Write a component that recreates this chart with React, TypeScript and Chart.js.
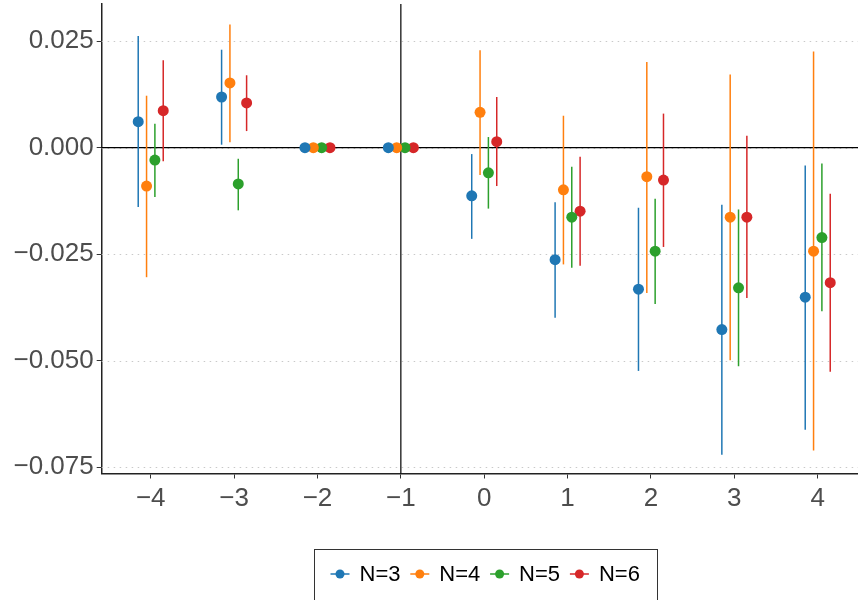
import React, { useEffect, useRef } from "react";
import { Chart, registerables } from "chart.js";
Chart.register(...registerables);

const events = [-4, -3, -2, -1, 0, 1, 2, 3, 4];
const seriesNames = ["N=3", "N=4", "N=5", "N=6"];
const colors = ["#1f77b4", "#ff7f0e", "#2ca02c", "#d62728"];
const dodge = [-0.15, -0.05, 0.05, 0.15];

const n3 = [0.0061, 0.0119, 0, 0, -0.0113, -0.0263, -0.0332, -0.0427, -0.0351];
const n3Lo = [-0.0139, 0.0007, 0, 0, -0.0214, -0.0399, -0.0524, -0.0721, -0.0662];
const n3Hi = [0.0262, 0.023, 0, 0, -0.0015, -0.0128, -0.0141, -0.0134, -0.0042];

const n4 = [-0.009, 0.0152, 0, 0, 0.0083, -0.0099, -0.0068, -0.0163, -0.0243];
const n4Lo = [-0.0304, 0.0013, 0, 0, -0.0064, -0.0274, -0.0341, -0.0499, -0.0711];
const n4Hi = [0.0122, 0.0289, 0, 0, 0.0229, 0.0075, 0.0201, 0.0172, 0.0226];

const n5 = [-0.0029, -0.0085, 0, 0, -0.0059, -0.0163, -0.0243, -0.0329, -0.0211];
const n5Lo = [-0.0116, -0.0147, 0, 0, -0.0143, -0.0282, -0.0367, -0.0513, -0.0384];
const n5Hi = [0.0056, -0.0026, 0, 0, 0.0025, -0.0045, -0.012, -0.0145, -0.0037];

const n6 = [0.0087, 0.0105, 0, 0, 0.0014, -0.0149, -0.0076, -0.0163, -0.0317];
const n6Lo = [-0.0032, 0.0039, 0, 0, -0.009, -0.0277, -0.0233, -0.0353, -0.0526];
const n6Hi = [0.0205, 0.017, 0, 0, 0.0119, -0.0021, 0.008, 0.0028, -0.0108];

const xTicks = [-4, -3, -2, -1, 0, 1, 2, 3, 4];
const yTicks = [0.025, 0, -0.025, -0.05, -0.075];

const estimates = [n3, n4, n5, n6];
const lows = [n3Lo, n4Lo, n5Lo, n6Lo];
const highs = [n3Hi, n4Hi, n5Hi, n6Hi];

const FONT = "'Liberation Sans', Arial, sans-serif";

function fmtY(v: number): string {
  const s = Math.abs(v).toFixed(3);
  return v < -1e-9 ? "\u2212" + s : s;
}
function fmtX(v: number): string {
  return v < 0 ? "\u2212" + Math.abs(v) : String(v);
}

const decorPlugin = {
  id: "decor",
  beforeDatasetsDraw(chart: any) {
    const { ctx, chartArea, scales } = chart;
    const xs = scales.x;
    const ys = scales.y;
    ctx.save();
    ctx.strokeStyle = "#c9c9c9";
    ctx.lineWidth = 1;
    ctx.setLineDash([1.5, 4.5]);
    yTicks.forEach((t) => {
      const y = Math.round(ys.getPixelForValue(t)) + 0.5;
      ctx.beginPath();
      ctx.moveTo(chartArea.left, y);
      ctx.lineTo(chartArea.right, y);
      ctx.stroke();
    });
    ctx.setLineDash([]);
    ctx.strokeStyle = "#000";
    ctx.lineWidth = 1.2;
    const y0 = ys.getPixelForValue(0);
    ctx.beginPath();
    ctx.moveTo(chartArea.left, y0);
    ctx.lineTo(chartArea.right, y0);
    ctx.stroke();
    const xv = xs.getPixelForValue(-1);
    ctx.beginPath();
    ctx.moveTo(xv, chartArea.top);
    ctx.lineTo(xv, chartArea.bottom);
    ctx.stroke();
    ctx.lineWidth = 1.5;
    chart.data.datasets.forEach((ds: any, si: number) => {
      ctx.strokeStyle = colors[si];
      ds.data.forEach((p: any, i: number) => {
        const lo = lows[si][i];
        const hi = highs[si][i];
        if (lo === hi) return;
        const x = xs.getPixelForValue(p.x);
        ctx.beginPath();
        ctx.moveTo(x, ys.getPixelForValue(lo));
        ctx.lineTo(x, ys.getPixelForValue(hi));
        ctx.stroke();
      });
    });
    ctx.restore();
  },
  afterDraw(chart: any) {
    const { ctx } = chart;
    ctx.save();
    const left = 314.5, right = 657.5, top = 549.5, bottom = 610;
    ctx.strokeStyle = "#333";
    ctx.lineWidth = 1;
    ctx.strokeRect(left, top, right - left, bottom - top);
    const cy = 574;
    const x0 = 340;
    const pitch = 79.8;
    ctx.font = `22px ${FONT}`;
    ctx.textBaseline = "middle";
    ctx.textAlign = "left";
    seriesNames.forEach((name, i) => {
      const cx = x0 + i * pitch;
      ctx.strokeStyle = colors[i];
      ctx.lineWidth = 1.5;
      ctx.beginPath();
      ctx.moveTo(cx - 9.5, cy);
      ctx.lineTo(cx + 9.5, cy);
      ctx.stroke();
      ctx.fillStyle = colors[i];
      ctx.beginPath();
      ctx.arc(cx, cy, 4.5, 0, Math.PI * 2);
      ctx.fill();
      ctx.fillStyle = "#000";
      ctx.fillText(name, cx + 19.5, cy + 1);
    });
    ctx.restore();
  },
};

export default function App() {
  const ref = useRef<HTMLCanvasElement | null>(null);
  useEffect(() => {
    if (!ref.current) return;
    const datasets = seriesNames.map((name, si) => ({
      label: name,
      data: events.map((e, i) => ({ x: e + dodge[si], y: estimates[si][i] })),
      backgroundColor: colors[si],
      borderColor: colors[si],
      borderWidth: 0,
      pointRadius: 5.5,
      pointHoverRadius: 5.5,
      showLine: false,
    }));
    const chart = new Chart(ref.current, {
      type: "scatter",
      data: { datasets },
      options: {
        responsive: false,
        animation: false,
        devicePixelRatio: 1,
        layout: { autoPadding: false, padding: { top: 4, right: 0, bottom: 0, left: 0 } },
        plugins: { legend: { display: false }, tooltip: { enabled: false } },
        scales: {
          x: {
            type: "linear",
            min: -4.588,
            max: 4.483,
            afterBuildTicks: (s: any) => {
              s.ticks = xTicks.map((v) => ({ value: v }));
            },
            afterFit: (s: any) => {
              s.height = 126.5;
              s.paddingLeft = 0;
              s.paddingRight = 0;
              s.paddingTop = 0;
              s.paddingBottom = 0;
            },
            ticks: {
              callback: (v: any) => fmtX(Number(v)),
              font: { family: FONT, size: 26 },
              color: "#4d4d4d",
              padding: 5,
              maxRotation: 0,
              autoSkip: false,
            },
            grid: { drawOnChartArea: false, drawTicks: true, tickLength: 5, color: "#333", lineWidth: 1 },
            border: { display: true, color: "#222", width: 1.5 },
          },
          y: {
            type: "linear",
            min: -0.07648,
            max: 0.03373,
            afterBuildTicks: (s: any) => {
              s.ticks = yTicks.map((v) => ({ value: v }));
            },
            afterFit: (s: any) => {
              s.width = 101.7;
              s.paddingLeft = 0;
              s.paddingRight = 0;
              s.paddingTop = 0;
              s.paddingBottom = 0;
            },
            ticks: {
              callback: (v: any) => fmtY(Number(v)),
              font: { family: FONT, size: 26 },
              color: "#4d4d4d",
              padding: 3,
              autoSkip: false,
            },
            grid: { drawOnChartArea: false, drawTicks: true, tickLength: 5, color: "#333", lineWidth: 1 },
            border: { display: true, color: "#222", width: 1.5 },
          },
        },
      },
      plugins: [decorPlugin],
    } as any);
    return () => chart.destroy();
  }, []);
  return (
    <div style={{ position: "fixed", left: 0, top: 0, width: 858, height: 600, background: "#fff" }}>
      <canvas ref={ref} width={858} height={600} style={{ display: "block", width: 858, height: 600 }} />
    </div>
  );
}
